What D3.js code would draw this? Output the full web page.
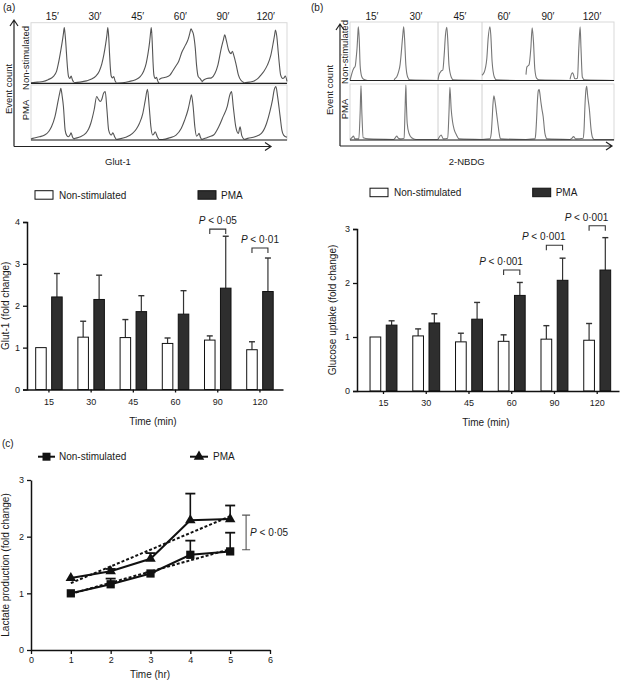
<!DOCTYPE html>
<html><head><meta charset="utf-8">
<script src="https://cdn.jsdelivr.net/npm/d3@7"></script>
<style>
body{margin:0;background:#fff}
svg{display:block;font-family:"Liberation Sans",Arial,sans-serif}
</style>
</head><body>
<svg id="c" width="622" height="680"></svg>
<script>
// ---------------- DATA ----------------
const timepoints = ["15","30","45","60","90","120"];
const seriesNames = ["Non-stimulated","PMA"];

// (a) Glut-1 fold change
const glutNS     = [1.00,1.25,1.24,1.10,1.18,0.95];
const glutNSErr  = [0.00,0.38,0.43,0.13,0.10,0.19];
const glutPMA    = [2.21,2.15,1.86,1.80,2.42,2.34];
const glutPMAErr = [0.56,0.58,0.38,0.56,1.24,0.80];
const glutSig = [{t:"90",text:"0·05",level:3.83},{t:"120",text:"0·01",level:3.38}];

// (b) Glucose uptake fold change
const glucNS     = [1.00,1.02,0.91,0.92,0.96,0.94];
const glucNSErr  = [0.00,0.13,0.16,0.12,0.25,0.31];
const glucPMA    = [1.22,1.26,1.33,1.77,2.05,2.24];
const glucPMAErr = [0.08,0.17,0.31,0.24,0.41,0.60];
const glucSig = [{t:"60",text:"0·001",level:2.24},{t:"90",text:"0·001",level:2.70},{t:"120",text:"0·001",level:3.06}];

// (c) Lactate production
const hours      = [1,2,3,4,5];
const lactNS     = [1.00,1.16,1.35,1.68,1.74];
const lactNSErr  = [0.00,0.10,0.02,0.25,0.33];
const lactPMA    = [1.27,1.39,1.61,2.29,2.31];
const lactPMAErr = [0.00,0.04,0.10,0.47,0.24];
const trendHours = [1,5];
const trendNS    = [0.99,1.78];
const trendPMA   = [1.18,2.36];
const lactSig = {x:5.4, lo:1.77, hi:2.38, text:"0·05"};

// flow histograms: [channel 0-100 within cell, count % of max]
const histGlutNS = [
 [[0,1],[15,2],[28,3],[40,6],[52,11],[60,20],[64,32],[70,55],[74,72],[76,82],[78,92],[80,80],[82,62],[84,40],[86,22],[88,11],[91,8],[94,12],[97,6],[100,2]],
 [[0,1],[15,2],[30,4],[42,7],[52,12],[60,20],[66,32],[71,48],[75,65],[78,80],[80,92],[82,78],[84,50],[86,25],[88,12],[91,9],[94,11],[97,4],[100,1]],
 [[0,0],[15,1],[30,3],[45,6],[56,11],[64,20],[70,33],[74,48],[78,68],[81,88],[82,92],[84,70],[86,35],[88,14],[91,8],[94,10],[97,4],[100,0]],
 [[0,6],[4,8],[15,10],[25,13],[31,19],[38,27],[46,36],[54,52],[62,63],[68,72],[72,82],[75,90],[78,86],[81,80],[85,58],[88,30],[92,11],[96,8],[100,4]],
 [[0,2],[4,5],[12,8],[23,9],[31,16],[38,30],[46,58],[51,72],[54,80],[58,70],[63,55],[69,49],[72,53],[75,47],[81,30],[86,14],[92,5],[100,1]],
 [[0,1],[12,2],[23,4],[32,8],[38,13],[46,20],[54,30],[62,46],[68,68],[71,80],[73,88],[76,78],[79,55],[82,32],[85,14],[90,8],[93,9],[96,12],[100,3]]
];
const histGlutPMA = [
 [[0,2],[4,3],[20,6],[32,9],[42,16],[48,24],[56,42],[64,73],[68,88],[70,94],[73,80],[76,61],[80,18],[84,8],[88,6],[92,10],[94,13],[97,6],[100,2]],
 [[0,2],[4,3],[16,6],[28,12],[35,20],[40,30],[48,55],[54,79],[58,74],[62,70],[66,74],[70,85],[74,88],[78,55],[82,18],[88,9],[92,13],[96,6],[100,1]],
 [[0,1],[8,2],[22,5],[38,12],[47,20],[54,30],[62,48],[68,73],[73,92],[77,61],[81,24],[85,9],[88,11],[91,15],[96,6],[100,1]],
 [[0,1],[8,1],[25,4],[40,9],[52,21],[60,36],[68,55],[74,76],[76,82],[80,61],[84,24],[88,7],[92,10],[94,12],[97,5],[100,1]],
 [[0,1],[8,3],[18,6],[28,9],[40,24],[50,42],[60,61],[66,82],[70,88],[74,61],[80,24],[86,12],[90,24],[94,8],[100,1]],
 [[0,1],[8,3],[25,6],[40,12],[52,30],[60,52],[66,73],[70,91],[74,97],[78,79],[84,42],[88,18],[92,9],[100,5]]
];
const histNbdgNS = [
 [[0,0],[2,6],[5,14],[8,20],[12,25],[14,38],[16,55],[18,82],[19,92],[21,70],[23,26],[25,12],[27,6],[31,2],[40,0],[100,0]],
 [[0,0],[2,3],[6,6],[10,14],[14,28],[16,43],[20,78],[22,92],[24,72],[27,26],[31,6],[36,1],[100,0]],
 [[0,1],[2,9],[7,16],[11,18],[14,43],[17,78],[20,91],[22,72],[25,26],[30,6],[35,1],[100,0]],
 [[0,9],[5,14],[11,38],[14,72],[18,92],[20,78],[23,32],[28,6],[33,1],[100,0]],
 [[0,10],[2,23],[7,27],[11,55],[14,90],[17,66],[20,20],[24,4],[30,1],[100,0]],
 [[0,2],[4,12],[6,13],[8,10],[11,3],[17,4],[20,55],[23,92],[25,55],[28,6],[33,1],[100,0]]
];
const histNbdgPMA = [
 [[0,1],[4,4],[8,7],[11,2],[20,2],[23,48],[25,97],[27,48],[30,4],[42,2],[100,1]],
 [[0,1],[2,3],[6,7],[10,3],[14,2],[23,3],[25,50],[27,98],[28,70],[30,30],[34,12],[40,4],[50,1],[100,1]],
 [[0,1],[2,4],[7,9],[12,2],[22,3],[25,50],[27,94],[30,55],[33,33],[37,18],[42,9],[48,2],[100,1]],
 [[0,1],[18,2],[21,12],[23,36],[25,65],[27,79],[29,72],[31,61],[34,42],[36,30],[39,12],[42,2],[100,1]],
 [[0,1],[20,2],[22,10],[24,36],[26,70],[28,88],[30,90],[31,86],[34,67],[36,56],[39,42],[43,12],[48,2],[100,1]],
 [[0,1],[4,3],[8,6],[13,2],[30,3],[32,20],[34,61],[36,88],[38,96],[40,80],[44,55],[48,18],[51,5],[55,1],[100,1]]
];

// ---------------- DRAWING ----------------
const svg = d3.select("#c");
const TXT = "#1a1a1a";

function text(x,y,t,size,opts={}){
  const el = svg.append("text").attr("x",x).attr("y",y).attr("font-size",size).attr("fill",TXT).text(t);
  if(opts.anchor) el.attr("text-anchor",opts.anchor);
  if(opts.rotate) el.attr("transform",`rotate(-90,${x},${y})`);
  return el;
}
function pText(x,y,val,anchor){
  const el = svg.append("text").attr("x",x).attr("y",y).attr("font-size",10).attr("fill",TXT).attr("text-anchor",anchor);
  el.append("tspan").attr("font-style","italic").text("P");
  el.append("tspan").text(" < "+val);
  return el;
}
function arrowAxes(x0,y0,yTop,xRight,col){
  svg.append("path").attr("d",`M${x0},${y0}V${yTop}M${x0-4},${yTop+6}L${x0},${yTop}L${x0+4},${yTop+6}`)
    .attr("fill","none").attr("stroke",col).attr("stroke-width",1.2);
  svg.append("path").attr("d",`M${x0},${y0}H${xRight}M${xRight-6},${y0-4}L${xRight},${y0}L${xRight-6},${y0+4}`)
    .attr("fill","none").attr("stroke",col).attr("stroke-width",1.2);
}

function drawHist(o){
  const cell = d3.scaleBand().domain(timepoints).range([o.x0,o.x1]);
  const ch = d3.scaleLinear().domain([0,100]).range([0,cell.bandwidth()]);
  o.rows.forEach(row=>{
    const y = d3.scaleLinear().domain([0,100]).range([row.base,row.top]);
    svg.append("rect").attr("x",o.x0).attr("y",row.top).attr("width",o.x1-o.x0).attr("height",row.base-row.top)
      .attr("fill","none").attr("stroke","#d9d9d9").attr("stroke-width",1);
    (o.seps||[]).forEach(k=>{
      svg.append("line").attr("x1",cell(timepoints[k])).attr("x2",cell(timepoints[k]))
        .attr("y1",row.top).attr("y2",row.base).attr("stroke","#d0d0d0");
    });
    row.data.forEach((h,i)=>{
      const line = d3.line().x(d=>cell(timepoints[i])+ch(d[0])).y(d=>y(d[1])).curve(d3.curveMonotoneX);
      svg.append("path").attr("d",line(h)).attr("fill","none").attr("stroke",o.color).attr("stroke-width",1.1);
    });
    svg.append("line").attr("x1",o.x0).attr("x2",o.x1).attr("y1",row.base).attr("y2",row.base)
      .attr("stroke","#222").attr("stroke-width",1.2);
  });
  timepoints.forEach(t=>text(cell(t)+cell.bandwidth()/2,20,t+"\u2032",10,{anchor:"middle"}));
}

function styleAxis(g){
  g.selectAll(".domain").attr("stroke","#111").attr("stroke-width",1.5);
  g.selectAll(".tick line").attr("stroke","#111").attr("stroke-width",1.3);
  g.selectAll(".tick text").attr("font-size",9).attr("fill",TXT).attr("font-family",'"Liberation Sans",Arial,sans-serif');
}

function barChart(o){
  const x = d3.scaleBand().domain(timepoints).range([o.left,o.right])
    .paddingInner(o.pi).paddingOuter(o.po).align(o.al);
  const xs = d3.scaleBand().domain(seriesNames).range([0,x.bandwidth()]).paddingInner(0.34);
  const y = d3.scaleLinear().domain([0,o.ymax]).range([o.bottom,o.top]);
  const series = [{name:"Non-stimulated",v:o.ns,e:o.nsErr,fill:"#fff"},{name:"PMA",v:o.pma,e:o.pmaErr,fill:"#2e2e2e"}];
  const bw = xs.bandwidth();
  series.forEach(s=>{
    timepoints.forEach((t,i)=>{
      const bx = x(t)+xs(s.name), cx = bx+bw/2;
      if(s.e[i]>0){
        svg.append("line").attr("x1",cx).attr("x2",cx).attr("y1",y(s.v[i])).attr("y2",y(s.v[i]+s.e[i])).attr("stroke","#333").attr("stroke-width",1.2);
        svg.append("line").attr("x1",cx-3).attr("x2",cx+3).attr("y1",y(s.v[i]+s.e[i])).attr("y2",y(s.v[i]+s.e[i])).attr("stroke","#333").attr("stroke-width",1.4);
      }
      svg.append("rect").attr("x",bx).attr("y",y(s.v[i])).attr("width",bw).attr("height",o.bottom-y(s.v[i]))
        .attr("fill",s.fill).attr("stroke","#111").attr("stroke-width",1);
    });
  });
  const gy = svg.append("g").attr("transform",`translate(${o.left},0)`)
    .call(d3.axisLeft(y).ticks(o.ymax).tickFormat(d3.format("d")).tickSize(4).tickPadding(3));
  styleAxis(gy);
  const gx = svg.append("g").attr("transform",`translate(0,${o.bottom})`)
    .call(d3.axisBottom(x).tickSize(3).tickSizeOuter(0).tickPadding(6));
  styleAxis(gx);
  text((o.left+o.right)/2-2,o.bottom+35,"Time (min)",10,{anchor:"middle"});
  text(o.ylabX,(o.top+o.bottom)/2,o.ylab,10,{anchor:"middle",rotate:true});
  // legend
  svg.append("rect").attr("x",o.leg[0]).attr("y",o.legY).attr("width",18).attr("height",8.5).attr("fill","#fff").attr("stroke","#111");
  text(o.leg[0]+24,o.legY+8,seriesNames[0],10);
  svg.append("rect").attr("x",o.leg[1]).attr("y",o.legY).attr("width",18).attr("height",8.5).attr("fill","#2e2e2e").attr("stroke","#111");
  text(o.leg[1]+23,o.legY+8,seriesNames[1],10);
  // significance brackets
  o.sig.forEach(s=>{
    const xl = x(s.t)+xs("Non-stimulated")+bw/2, xr = x(s.t)+xs("PMA")+bw/2, yb = y(s.level);
    svg.append("path").attr("d",`M${xl},${yb+5}V${yb}H${xr}V${yb+5}`).attr("fill","none").attr("stroke","#333").attr("stroke-width",1.1);
    if(o.sigAnchor==="end") pText(xr+3,yb-5,s.text,"end");
    else pText((xl+xr)/2,yb-5,s.text,"middle");
  });
}

// ----- panel labels -----
text(3,11,"(a)",10);
text(311,11,"(b)",10);
text(2,447,"(c)",10);

// ----- (a) histograms -----
drawHist({x0:31,x1:287,color:"#555",rows:[{top:22.7,base:83.3,data:histGlutNS},{top:85,base:140,data:histGlutPMA}]});
arrowAxes(14,146.5,20,271,"#222");
text(12,89,"Event count",9.5,{anchor:"middle",rotate:true});
text(28.5,58,"Non-stimulated",9.5,{anchor:"middle",rotate:true});
text(28.5,110,"PMA",9.5,{anchor:"middle",rotate:true});
text(105,164.5,"Glut-1",9.5);

// ----- (b) histograms -----
drawHist({x0:350,x1:614,color:"#777",seps:[2,3],rows:[{top:22,base:80.5,data:histNbdgNS},{top:84,base:140,data:histNbdgPMA}]});
arrowAxes(340,146,24,612,"#222");
text(333,90,"Event count",9.5,{anchor:"middle",rotate:true});
text(347.5,52,"Non-stimulated",9.5,{anchor:"middle",rotate:true});
text(347.5,109,"PMA",9.5,{anchor:"middle",rotate:true});
text(466.7,164.5,"2-NBDG",9.5,{anchor:"middle"});

// ----- (a) bar chart -----
barChart({left:27,right:283,pi:0.372,po:0.219,al:0.47,top:222,bottom:389.5,ymax:4,
  ns:glutNS,nsErr:glutNSErr,pma:glutPMA,pmaErr:glutPMAErr,
  ylab:"Glut-1 (fold change)",ylabX:9,leg:[35,198],legY:190.7,sig:glutSig,sigAnchor:"middle"});

// ----- (b) bar chart -----
barChart({left:357,right:619,pi:0.37,po:0.25,al:0.61,top:229,bottom:391,ymax:3,
  ns:glucNS,nsErr:glucNSErr,pma:glucPMA,pmaErr:glucPMAErr,
  ylab:"Glucose uptake (fold change)",ylabX:336,leg:[370,532.7],legY:188.2,sig:glucSig,sigAnchor:"end"});

// ----- (c) line chart -----
(function(){
  const x = d3.scaleLinear().domain([0,6]).range([31,270]);
  const y = d3.scaleLinear().domain([0,3]).range([650,480]);
  const gx = svg.append("g").attr("transform","translate(0,650)")
    .call(d3.axisBottom(x).ticks(6).tickFormat(d3.format("d")).tickSize(4).tickSizeOuter(0).tickPadding(3));
  styleAxis(gx);
  const gy = svg.append("g").attr("transform","translate(31,0)")
    .call(d3.axisLeft(y).ticks(3).tickFormat(d3.format("d")).tickSize(4).tickSizeOuter(0).tickPadding(3));
  styleAxis(gy);
  text(150,677.5,"Time (hr)",10,{anchor:"middle"});
  text(9,565,"Lactate production (fold change)",10,{anchor:"middle",rotate:true});

  const series = [
    {v:lactNS,e:lactNSErr,trend:trendNS,sym:d3.symbolSquare,size:68},
    {v:lactPMA,e:lactPMAErr,trend:trendPMA,sym:d3.symbolTriangle,size:48}
  ];
  series.forEach(s=>{
    // trend (dashed)
    svg.append("path").attr("d",d3.line().x((d,i)=>x(trendHours[i])).y(d=>y(d))(s.trend))
      .attr("fill","none").attr("stroke","#111").attr("stroke-width",2).attr("stroke-dasharray","3,2");
  });
  series.forEach(s=>{
    hours.forEach((h,i)=>{
      if(s.e[i]>0){
        const cx=x(h), y0=y(s.v[i]), y1=y(s.v[i]+s.e[i]);
        svg.append("line").attr("x1",cx).attr("x2",cx).attr("y1",y0).attr("y2",y1).attr("stroke","#111").attr("stroke-width",1.6);
        svg.append("line").attr("x1",cx-5).attr("x2",cx+5).attr("y1",y1).attr("y2",y1).attr("stroke","#111").attr("stroke-width",1.8);
      }
    });
    svg.append("path").attr("d",d3.line().x((d,i)=>x(hours[i])).y(d=>y(d))(s.v))
      .attr("fill","none").attr("stroke","#111").attr("stroke-width",2);
    hours.forEach((h,i)=>{
      svg.append("path").attr("d",d3.symbol(s.sym,s.size)()).attr("transform",`translate(${x(h)},${y(s.v[i])})`).attr("fill","#111");
    });
  });
  // significance bracket
  const bx = x(lactSig.x), ylo=y(lactSig.lo), yhi=y(lactSig.hi);
  svg.append("path").attr("d",`M${bx-4},${yhi}H${bx+4}M${bx},${yhi}V${ylo}M${bx-4},${ylo}H${bx+4}`)
    .attr("fill","none").attr("stroke","#555").attr("stroke-width",1.1);
  pText(bx+4,(ylo+yhi)/2+3.5,lactSig.text,"start");

  // legend
  const legY = 456.7;
  svg.append("line").attr("x1",38).attr("x2",55).attr("y1",legY).attr("y2",legY).attr("stroke","#111").attr("stroke-width",2);
  svg.append("path").attr("d",d3.symbol(d3.symbolSquare,64)()).attr("transform",`translate(46.5,${legY})`).attr("fill","#111");
  text(59,legY+3.5,seriesNames[0],10);
  svg.append("line").attr("x1",190).attr("x2",208).attr("y1",legY).attr("y2",legY).attr("stroke","#111").attr("stroke-width",2);
  svg.append("path").attr("d",d3.symbol(d3.symbolTriangle,48)()).attr("transform",`translate(199,${legY})`).attr("fill","#111");
  text(213,legY+3.5,seriesNames[1],10);
})();
</script>
</body></html>
